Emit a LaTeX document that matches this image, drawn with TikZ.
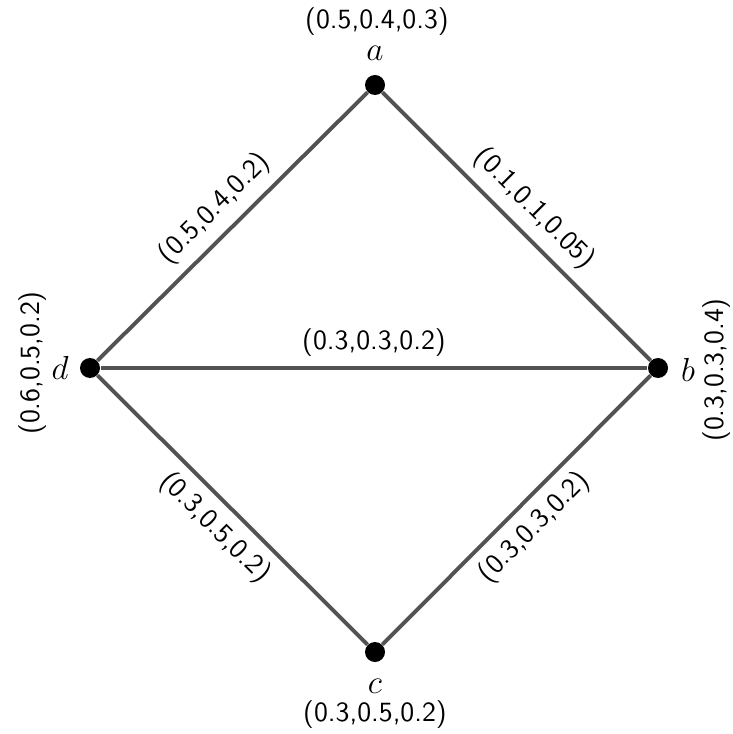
\documentclass[tikz,border=0pt]{standalone}
\begin{document}
\begin{tikzpicture}[x=0.36pt,y=-0.36pt,
  vert/.style={circle,fill=black,inner sep=0pt,minimum size=7.2pt},
  edge/.style={draw=black!68,line width=1.4pt},
  elab/.style={font=\sffamily,sloped},
  vlab/.style={font=\sffamily},
  vname/.style={font=\large}]
\useasboundingbox (0,0) rectangle (733,734);
\node[vert] (a) at (375,85) {};
\node[vert] (b) at (658,368) {};
\node[vert] (c) at (375,652) {};
\node[vert] (d) at (90,368) {};
\draw[edge] (d) -- node[elab,above] {(0.5,0.4,0.2)} (a);
\draw[edge] (a) -- node[elab,above] {(0.1,0.1,0.05)} (b);
\draw[edge] (d) -- node[elab,above] {(0.3,0.3,0.2)} (b);
\draw[edge] (d) -- node[elab,below] {(0.3,0.5,0.2)} (c);
\draw[edge] (c) -- node[elab,below] {(0.3,0.3,0.2)} (b);
\node[vname] (la) at (375,53) {$a$};
\node[vlab] (wa) at (377,22) {(0.5,0.4,0.3)};
\node[vname] (lb) at (688,370) {$b$};
\node[vlab,rotate=90] (wb) at (717,370) {(0.3,0.3,0.4)};
\node[vname] (lc) at (375,686) {$c$};
\node[vlab] (wc) at (375,715) {(0.3,0.5,0.2)};
\node[vname] (ld) at (60,368) {$d$};
\node[vlab,rotate=90] (wd) at (33,363) {(0.6,0.5,0.2)};
\end{tikzpicture}
\end{document}
